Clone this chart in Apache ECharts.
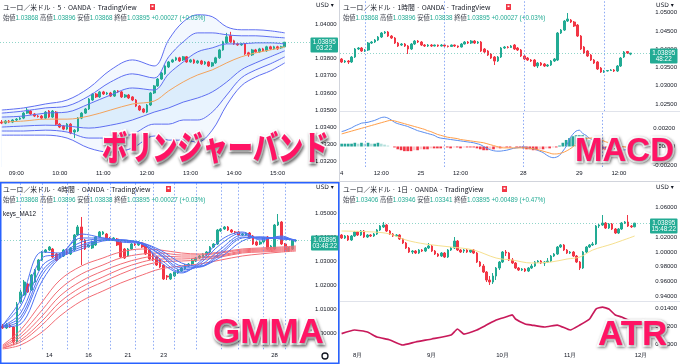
<!DOCTYPE html>
<html><head><meta charset="utf-8">
<script src="https://cdn.jsdelivr.net/npm/echarts@6/dist/echarts.min.js"></script>
<style>html,body{margin:0;padding:0;background:#fff}#c{width:680px;height:364px}</style>
</head><body><div id="c"></div>
<script>
// ================= DATA =================
// Panel 1 : 5 min + Bollinger bands
const p1Slots = 86;
const p1TickIdx = [4,16,28,40,52,64,76];
const p1TickLbl = ['09:00','10:00','11:00','12:00','13:00','14:00','15:00'];
const p1Candles = [
[1.03431,1.03425,1.03419,1.03443],[1.03425,1.03437,1.03419,1.03443],[1.03437,1.03431,1.03425,1.03443],[1.03431,1.03443,1.03425,1.03448],
[1.03443,1.03448,1.03437,1.03454],[1.03448,1.03454,1.03443,1.03460],[1.03454,1.03483,1.03448,1.03489],[1.03483,1.03501,1.03478,1.03513],
[1.03495,1.03478,1.03472,1.03501],[1.03478,1.03466,1.03460,1.03483],[1.03466,1.03463,1.03457,1.03472],[1.03466,1.03454,1.03448,1.03472],
[1.03454,1.03489,1.03448,1.03495],[1.03495,1.03460,1.03454,1.03501],[1.03460,1.03495,1.03454,1.03501],[1.03489,1.03419,1.03413,1.03495],
[1.03419,1.03402,1.03396,1.03425],[1.03408,1.03390,1.03384,1.03413],[1.03390,1.03419,1.03384,1.03425],[1.03419,1.03367,1.03361,1.03425],
[1.03373,1.03384,1.03338,1.03390],[1.03379,1.03454,1.03373,1.03460],[1.03454,1.03483,1.03448,1.03489],[1.03483,1.03507,1.03478,1.03513],
[1.03507,1.03565,1.03501,1.03571],[1.03559,1.03594,1.03553,1.03600],[1.03594,1.03577,1.03571,1.03600],[1.03577,1.03606,1.03571,1.03612],
[1.03606,1.03594,1.03588,1.03612],[1.03594,1.03600,1.03588,1.03606],[1.03600,1.03582,1.03577,1.03606],[1.03582,1.03612,1.03577,1.03617],
[1.03612,1.03606,1.03600,1.03617],[1.03606,1.03577,1.03571,1.03612],[1.03577,1.03588,1.03571,1.03594],[1.03588,1.03571,1.03565,1.03594],
[1.03577,1.03559,1.03553,1.03582],[1.03559,1.03524,1.03518,1.03565],[1.03524,1.03501,1.03495,1.03530],[1.03507,1.03489,1.03483,1.03513],
[1.03489,1.03530,1.03483,1.03536],[1.03530,1.03600,1.03524,1.03606],[1.03600,1.03641,1.03594,1.03646],[1.03641,1.03681,1.03635,1.03687],
[1.03681,1.03716,1.03676,1.03722],[1.03711,1.03757,1.03705,1.03763],[1.03751,1.03780,1.03745,1.03786],[1.03780,1.03792,1.03775,1.03798],
[1.03792,1.03804,1.03786,1.03810],[1.03804,1.03786,1.03780,1.03810],[1.03792,1.03810,1.03786,1.03815],[1.03810,1.03780,1.03775,1.03815],
[1.03780,1.03792,1.03775,1.03798],[1.03792,1.03775,1.03769,1.03798],[1.03775,1.03786,1.03769,1.03792],[1.03786,1.03769,1.03763,1.03792],
[1.03769,1.03780,1.03763,1.03786],[1.03780,1.03757,1.03751,1.03786],[1.03757,1.03775,1.03751,1.03780],[1.03775,1.03804,1.03769,1.03810],
[1.03804,1.03850,1.03798,1.03856],[1.03850,1.03897,1.03845,1.03903],[1.03891,1.03926,1.03885,1.03949],[1.03932,1.03897,1.03891,1.03955],
[1.03903,1.03885,1.03879,1.03909],[1.03885,1.03879,1.03874,1.03891],[1.03879,1.03885,1.03874,1.03891],[1.03885,1.03827,1.03821,1.03891],
[1.03833,1.03821,1.03810,1.03839],[1.03821,1.03850,1.03815,1.03856],[1.03850,1.03839,1.03833,1.03856],[1.03839,1.03856,1.03833,1.03862],
[1.03856,1.03845,1.03839,1.03862],[1.03845,1.03868,1.03839,1.03874],[1.03868,1.03856,1.03850,1.03874],[1.03856,1.03868,1.03850,1.03874],
[1.03868,1.03856,1.03850,1.03874],[1.03862,1.03868,1.03856,1.03874],[1.03868,1.03895,1.03868,1.03896]
];
const p1BandIdx = [0,6,12,18,24,30,36,42,46,50,54,58,62,66,70,74,78];
const p1Up3 = [1.03501,1.03513,1.03536,1.03559,1.03629,1.03734,1.03792,1.03757,1.03909,1.04013,1.04054,1.04043,1.03984,1.03967,1.03967,1.03961,1.03949];
const p1Up2 = [1.03483,1.03495,1.03513,1.03524,1.03582,1.03664,1.03711,1.03687,1.03810,1.03897,1.03949,1.03949,1.03938,1.03932,1.03932,1.03926,1.03920];
const p1Up1 = [1.03460,1.03466,1.03483,1.03489,1.03536,1.03588,1.03629,1.03617,1.03711,1.03780,1.03839,1.03862,1.03885,1.03885,1.03891,1.03891,1.03885];
const p1Mid = [1.03431,1.03437,1.03448,1.03448,1.03466,1.03501,1.03536,1.03553,1.03612,1.03664,1.03705,1.03734,1.03775,1.03810,1.03833,1.03850,1.03868];
const p1Lo1 = [1.03402,1.03408,1.03413,1.03408,1.03396,1.03413,1.03443,1.03489,1.03513,1.03547,1.03571,1.03606,1.03664,1.03734,1.03775,1.03810,1.03845];
const p1Lo2 = [1.03379,1.03379,1.03384,1.03373,1.03338,1.03338,1.03361,1.03419,1.03419,1.03443,1.03443,1.03489,1.03588,1.03687,1.03734,1.03769,1.03810];
const p1Lo3 = [1.03355,1.03355,1.03355,1.03338,1.03280,1.03256,1.03280,1.03350,1.03326,1.03326,1.03315,1.03384,1.03530,1.03641,1.03693,1.03728,1.03775];
const p1Ohlc = ['1.03868','1.03896','1.03868','1.03895','+0.00027 (+0.03%)'];
const p1Timer = '03:22';

// Panel 2 : 1 hour + MACD
const p2Slots = 94;
const p2TickIdx = [0,12,24,36,55,72,84];
const p2TickLbl = ['4','12:00','25','12:00','28','29','12:00'];
const p2SessIdx = [7,31,55,79];
const p2Candles = [
[1.03733,1.03651,1.03623,1.03760],[1.03651,1.03678,1.03623,1.03705],[1.03678,1.03651,1.03596,1.03705],[1.03651,1.03788,1.03623,1.03815],
[1.03788,1.04007,1.03760,1.04034],[1.04007,1.04034,1.03979,1.04062],[1.04034,1.03952,1.03925,1.04062],[1.03952,1.03979,1.03925,1.04007],
[1.03979,1.04171,1.03952,1.04199],[1.04171,1.04199,1.04144,1.04226],[1.04199,1.04253,1.04171,1.04281],[1.04253,1.04336,1.04226,1.04363],
[1.04336,1.04445,1.04308,1.04473],[1.04445,1.04473,1.04418,1.04500],[1.04473,1.04363,1.04336,1.04500],[1.04363,1.04308,1.04281,1.04390],
[1.04308,1.04171,1.04144,1.04336],[1.04171,1.04089,1.04062,1.04199],[1.04116,1.04144,1.04089,1.04171],[1.04144,1.04089,1.04062,1.04171],
[1.04089,1.04007,1.03870,1.04116],[1.04007,1.04144,1.03979,1.04171],[1.04144,1.04226,1.04116,1.04253],[1.04226,1.04199,1.04171,1.04253],
[1.04199,1.04116,1.04089,1.04226],[1.04116,1.04089,1.04062,1.04144],[1.04089,1.04116,1.04062,1.04144],[1.04116,1.04089,1.04062,1.04144],
[1.04089,1.04116,1.04075,1.04130],[1.04116,1.04089,1.04062,1.04130],[1.04089,1.04116,1.04075,1.04144],[1.04116,1.04089,1.04062,1.04130],
[1.04089,1.04075,1.04048,1.04103],[1.04075,1.04116,1.04062,1.04130],[1.04116,1.04089,1.04062,1.04130],[1.04089,1.04062,1.04034,1.04103],
[1.04062,1.04144,1.04048,1.04171],[1.04144,1.04199,1.04130,1.04226],[1.04199,1.04171,1.04144,1.04226],[1.04171,1.04226,1.04144,1.04253],
[1.04226,1.04171,1.04144,1.04253],[1.04171,1.04199,1.04144,1.04226],[1.04199,1.03952,1.03925,1.04226],[1.04007,1.03925,1.03897,1.04034],
[1.03952,1.03842,1.03815,1.03979],[1.03870,1.03760,1.03733,1.03897],[1.03788,1.03678,1.03568,1.03815],[1.03678,1.03788,1.03651,1.03815],
[1.03788,1.04034,1.03760,1.04062],[1.04034,1.04062,1.04007,1.04089],[1.04062,1.04048,1.04021,1.04089],[1.04048,1.04089,1.04034,1.04116],
[1.04116,1.04007,1.03979,1.04144],[1.04034,1.03979,1.03952,1.04062],[1.03979,1.03815,1.03788,1.04007],[1.03815,1.03733,1.03705,1.03842],
[1.03760,1.03705,1.03678,1.03788],[1.03705,1.03678,1.03651,1.03733],[1.03705,1.03541,1.03514,1.03733],[1.03541,1.03623,1.03486,1.03651],
[1.03623,1.03568,1.03541,1.03651],[1.03596,1.03541,1.03514,1.03623],[1.03541,1.03568,1.03514,1.03596],[1.03568,1.03678,1.03541,1.03705],
[1.03678,1.03733,1.03651,1.03760],[1.03705,1.04445,1.03678,1.04473],[1.04445,1.04527,1.04418,1.04555],[1.04527,1.04774,1.04500,1.04801],
[1.04774,1.04829,1.04747,1.04993],[1.04801,1.04747,1.04719,1.04829],[1.04747,1.04637,1.04610,1.04774],[1.04664,1.04363,1.04336,1.04692],
[1.04363,1.04007,1.03979,1.04390],[1.04062,1.03897,1.03870,1.04089],[1.03952,1.03815,1.03788,1.03979],[1.03842,1.03705,1.03678,1.03870],
[1.03705,1.03623,1.03596,1.03733],[1.03651,1.03459,1.03432,1.03678],[1.03486,1.03377,1.03350,1.03514],[1.03377,1.03404,1.03350,1.03432],
[1.03404,1.03418,1.03390,1.03432],[1.03418,1.03432,1.03404,1.03459],[1.03432,1.03404,1.03377,1.03459],[1.03404,1.03541,1.03377,1.03568],
[1.03541,1.03760,1.03514,1.03788],[1.03788,1.03925,1.03760,1.03952],[1.03938,1.03897,1.03870,1.03952],[1.03868,1.03895,1.03838,1.03896]
];
const p2Macd = [0.0016,0.0017,0.00185,0.0020,0.0022,0.00235,0.0025,0.00255,0.0026,0.0027,0.0028,0.00295,0.0031,0.00315,0.00305,0.00285,
0.0026,0.00245,0.00235,0.00225,0.00215,0.0020,0.00185,0.0017,0.0016,0.0015,0.0014,0.0013,0.0012,0.0010,0.0009,0.00085,
0.0008,0.00075,0.0007,0.00065,0.0006,0.00055,0.0005,0.00045,0.0004,0.0003,0.0002,0.0000,-0.0002,-0.00035,-0.00045,-0.0005,
-0.0005,-0.00045,-0.0004,-0.0003,-0.0002,-0.00015,-0.0001,-0.00005,-0.0001,-0.0002,-0.00025,-0.00035,-0.0005,-0.00065,-0.0009,-0.0011,
-0.0012,-0.00115,-0.00095,-0.0005,0.0000,0.0008,0.0013,0.00165,0.00175,0.0014,0.0012,0.0009,0.0007,0.0004,0.00015,-0.00005,
-0.0002,-0.0003,-0.0004,-0.00045,-0.00045,-0.0004,-0.00035,-0.0003];
const p2Signal = [0.00135,0.00145,0.00155,0.00165,0.00175,0.00185,0.00195,0.00205,0.00215,0.00225,0.00235,0.00245,0.00255,0.00265,0.00275,0.0028,
0.00275,0.00265,0.00255,0.00245,0.00235,0.00225,0.00215,0.00205,0.00195,0.00185,0.0017,0.0016,0.00145,0.0013,0.0012,0.0011,
0.0010,0.00095,0.0009,0.00085,0.00075,0.0007,0.00065,0.0006,0.00055,0.0005,0.00045,0.0004,0.0003,0.0002,0.0001,0.0000,
-0.0001,-0.00015,-0.00015,-0.00015,-0.00015,-0.00015,-0.00015,-0.00015,-0.00015,-0.0002,-0.00025,-0.0003,-0.0004,-0.0005,-0.0006,-0.0007,
-0.0008,-0.0008,-0.00075,-0.00065,-0.0005,-0.0003,-0.00005,0.00025,0.0005,0.0007,0.00085,0.0009,0.0009,0.00085,0.00075,0.00065,
0.0005,0.0004,0.0003,0.0002,0.0001,0.0000,-0.00005,-0.0001];
const p2Hist = [0.0003,0.0003,0.0003,0.0003,0.0004,0.0003,0.0004,0.0003,0.0004,0.0003,0.0003,0.0004,0.0003,0.0002,0.0001,0.0000,
-0.0001,-0.0003,-0.0004,-0.0005,-0.0005,-0.0005,-0.0004,-0.0004,-0.0003,-0.0003,-0.0003,-0.0002,-0.0002,-0.0002,-0.0002,-0.0001,
-0.0001,-0.0002,-0.0001,-0.0001,-0.0002,-0.0001,-0.0001,-0.0001,-0.0001,-0.0002,-0.0003,-0.0004,-0.0004,-0.0003,-0.0003,-0.0002,
-0.0002,-0.0001,-0.0001,-0.0001,0.0000,-0.0001,-0.0001,-0.0002,-0.0003,-0.0003,-0.0004,-0.0004,-0.0003,-0.0003,-0.0002,-0.0002,
-0.0001,-0.0001,0.0001,0.0004,0.0007,0.0009,0.0011,0.0012,0.0012,0.0012,0.0010,0.0007,0.0004,0.0001,-0.0001,-0.0003,
-0.0004,-0.0005,-0.0005,-0.0004,-0.0003,-0.0002,-0.0001,-0.0001];
const p2Ohlc = ['1.03868','1.03896','1.03838','1.03895','+0.00027 (+0.03%)'];
const p2Timer = '48:22';

// Panel 3 : 4 hour + GMMA
const p3Slots = 87;
const p3TickIdx = [13,24,35,45,76];
const p3TickLbl = ['14','16','21','23','28'];
const p3SessIdx = [5,11,18,24,30,37,42,48,54,61,66,73,79];
const p3Candles = [
[1.00321,1.00238,1.00196,1.00404],[1.00238,1.00363,1.00196,1.00446],[1.00363,1.00279,1.00238,1.00404],[1.00279,0.99654,0.99529,1.00321],
[0.99654,1.01238,0.99571,1.01321],[1.01321,1.01738,1.01238,1.01821],[1.01613,1.02154,1.01571,1.02238],[1.02071,1.01738,1.01696,1.02113],
[1.01821,1.02446,1.01779,1.02488],[1.02154,1.02654,1.02113,1.02696],[1.02654,1.03071,1.02613,1.03113],[1.03071,1.03404,1.03029,1.03446],
[1.03404,1.03488,1.03363,1.03529],[1.03488,1.03613,1.03446,1.03654],[1.03529,1.03196,1.03154,1.03571],[1.03321,1.03071,1.03029,1.03363],
[1.03154,1.03321,1.03113,1.03363],[1.03238,1.03488,1.03196,1.03529],[1.03488,1.03321,1.03279,1.03529],[1.03321,1.03571,1.03279,1.03613],
[1.03488,1.04113,1.03446,1.04154],[1.04113,1.04446,1.04071,1.04529],[1.04446,1.03904,1.02863,1.04863],[1.03904,1.03529,1.03488,1.03946],
[1.03613,1.03696,1.03571,1.03738],[1.03571,1.03821,1.03529,1.03863],[1.03696,1.04029,1.03654,1.04071],[1.04029,1.04238,1.03988,1.04279],
[1.04154,1.04238,1.04113,1.04279],[1.04154,1.03946,1.03904,1.04196],[1.03988,1.03946,1.03904,1.04029],[1.03946,1.03988,1.03904,1.04029],
[1.03946,1.03696,1.03654,1.03988],[1.03821,1.03196,1.03154,1.03863],[1.03529,1.03154,1.03113,1.03571],[1.03238,1.03529,1.03196,1.03571],
[1.03529,1.03738,1.03488,1.03779],[1.03738,1.03696,1.03654,1.03779],[1.03696,1.03821,1.03654,1.03863],[1.03779,1.03613,1.03571,1.03821],
[1.03696,1.03321,1.03279,1.03738],[1.03488,1.03113,1.03071,1.03529],[1.03321,1.03071,1.03029,1.03363],[1.03196,1.02863,1.02821,1.03238],
[1.03071,1.02779,1.02738,1.03113],[1.02863,1.02279,1.02238,1.02904],[1.02404,1.02363,1.02238,1.02446],[1.02279,1.02488,1.02238,1.02529],
[1.02404,1.02571,1.02363,1.02613],[1.02529,1.02654,1.02488,1.02696],[1.02613,1.02738,1.02571,1.02779],[1.02696,1.02863,1.02654,1.02904],
[1.02821,1.02904,1.02779,1.02946],[1.02904,1.03071,1.02863,1.03113],[1.03029,1.03154,1.02988,1.03196],[1.03154,1.03238,1.03113,1.03279],
[1.03196,1.03321,1.03154,1.03363],[1.03279,1.03404,1.03238,1.03446],[1.03404,1.03613,1.03363,1.03654],[1.03613,1.03738,1.03571,1.03779],
[1.03738,1.04321,1.03696,1.04363],[1.04279,1.04363,1.04238,1.04404],[1.04363,1.04446,1.04321,1.04488],[1.04446,1.04321,1.04279,1.04488],
[1.04321,1.04238,1.04196,1.04363],[1.04238,1.04217,1.04154,1.04279],[1.04238,1.04113,1.04071,1.04279],[1.04113,1.04154,1.04071,1.04196],
[1.04113,1.04196,1.04071,1.04238],[1.04196,1.03988,1.03946,1.04238],[1.04071,1.03738,1.03696,1.04113],[1.03821,1.03696,1.03654,1.03863],
[1.03738,1.03821,1.03696,1.03863],[1.03821,1.03988,1.03779,1.04029],[1.04029,1.03529,1.03488,1.04071],[1.03529,1.03654,1.03488,1.03696],
[1.03529,1.04529,1.03488,1.04571],[1.04529,1.04654,1.04488,1.04987],[1.04654,1.03738,1.03696,1.04696],[1.03738,1.03446,1.03404,1.03779],
[1.03446,1.03571,1.03404,1.03613],[1.03529,1.03904,1.03488,1.03946],[1.03868,1.03895,1.03838,1.03896]
];
const p3LineIdx = [0,5,11,16,22,28,33,39,44,50,55,61,67,72,78,82];
const p3Short = [
[1.00363,1.01404,1.03404,1.03363,1.04154,1.03988,1.03821,1.03738,1.02988,1.02529,1.02988,1.03904,1.04238,1.03904,1.04071,1.03821],
[1.00363,1.01154,1.03154,1.03321,1.03988,1.03988,1.03863,1.03738,1.03113,1.02571,1.02904,1.03738,1.04196,1.03946,1.04029,1.03863],
[1.00321,1.00863,1.02821,1.03279,1.03821,1.03946,1.03904,1.03738,1.03279,1.02654,1.02821,1.03529,1.04113,1.03988,1.03988,1.03863],
[1.00321,1.00696,1.02613,1.03238,1.03696,1.03904,1.03904,1.03738,1.03321,1.02738,1.02779,1.03404,1.04029,1.03988,1.03988,1.03904],
[1.00279,1.00571,1.02446,1.03196,1.03613,1.03904,1.03904,1.03779,1.03404,1.02821,1.02779,1.03321,1.03988,1.04029,1.03946,1.03904],
[1.00279,1.00404,1.02196,1.03154,1.03529,1.03863,1.03904,1.03779,1.03488,1.02946,1.02821,1.03196,1.03863,1.04029,1.03946,1.03904]
];
const p3Long = [
[0.99529,1.00154,1.01321,1.02238,1.02821,1.03154,1.03404,1.03529,1.03488,1.03363,1.03321,1.03404,1.03529,1.03571,1.03613,1.03654],
[0.99488,0.99988,1.00988,1.01863,1.02488,1.02863,1.03154,1.03321,1.03363,1.03279,1.03279,1.03363,1.03488,1.03529,1.03571,1.03613],
[0.99446,0.99863,1.00738,1.01571,1.02196,1.02613,1.02904,1.03154,1.03238,1.03196,1.03196,1.03279,1.03446,1.03488,1.03529,1.03571],
[0.99404,0.99738,1.00529,1.01321,1.01946,1.02363,1.02696,1.02988,1.03113,1.03113,1.03154,1.03238,1.03404,1.03446,1.03488,1.03529],
[0.99404,0.99654,1.00363,1.01113,1.01738,1.02154,1.02488,1.02821,1.02988,1.03029,1.03071,1.03196,1.03363,1.03404,1.03446,1.03488],
[0.99363,0.99529,1.00071,1.00738,1.01363,1.01779,1.02113,1.02446,1.02696,1.02821,1.02904,1.03071,1.03238,1.03321,1.03404,1.03446]
];
const p3Ohlc = ['1.03868','1.03896','1.03838','1.03895','+0.00027 (+0.03%)'];
const p3Timer = '03:48:22';

// Panel 4 : daily + ATR
const p4Slots = 97;
const p4TickIdx = [5,28,50,71,93];
const p4TickLbl = ['8月','9月','10月','11月','12月'];
const p4Candles = [
[1.02297,1.01892,1.01757,1.02432],[1.01892,1.02162,1.01757,1.02297],[1.02162,1.01622,1.01486,1.02297],[1.01622,1.02162,1.01486,1.02297],
[1.02162,1.02703,1.02027,1.02838],[1.02703,1.02297,1.02162,1.02838],[1.02297,1.02838,1.02162,1.02973],[1.02838,1.02027,1.01892,1.02973],
[1.02027,1.02297,1.01892,1.02432],[1.02297,1.02162,1.02027,1.02432],[1.02162,1.02432,1.02027,1.02568],[1.02432,1.02973,1.02297,1.03108],
[1.02973,1.03514,1.02838,1.03649],[1.03378,1.03649,1.03243,1.04054],[1.03649,1.02838,1.02703,1.03784],[1.02838,1.02432,1.02297,1.02973],
[1.02432,1.02162,1.02027,1.02568],[1.02162,1.02297,1.02027,1.02432],[1.02297,1.01757,1.01622,1.02432],[1.01757,1.01216,1.01081,1.01892],
[1.01216,1.00541,1.00405,1.01351],[1.00541,1.00000,0.99865,1.00676],[1.00000,1.00135,0.99730,1.00270],[1.00135,0.99865,0.99730,1.00270],
[0.99865,1.00270,0.99730,1.00405],[1.00270,1.00135,1.00000,1.00405],[1.00135,1.00541,1.00000,1.00676],[1.00541,1.00811,1.00405,1.01216],
[1.00811,1.00135,1.00000,1.00946],[1.00135,0.99730,0.99595,1.00270],[0.99730,0.99459,0.99324,0.99865],[0.99459,0.99865,0.99324,1.00000],
[0.99865,0.99324,0.99189,1.00000],[0.99324,1.00270,0.99189,1.00405],[1.00270,1.00541,1.00135,1.00676],[1.00541,1.01486,1.00405,1.02027],
[1.01486,1.00270,1.00135,1.01622],[1.00270,1.00000,0.99865,1.00405],[1.00135,1.00270,0.99865,1.00405],[1.00270,1.00000,0.99865,1.00405],
[1.00000,1.00270,0.99865,1.00405],[1.00270,0.99865,0.99730,1.00405],[0.99865,0.98649,0.98514,1.00000],[0.98649,0.98108,0.97973,0.98784],
[0.98108,0.97297,0.97162,0.98378],[0.97297,0.96216,0.95946,0.97432],[0.96216,0.95946,0.95541,0.96757],[0.95946,0.96757,0.95676,0.97162],
[0.96757,0.97838,0.96216,0.97973],[0.97838,0.98649,0.97568,0.98784],[0.98649,1.00000,0.98514,1.00135],[1.00000,0.99865,0.99459,1.00270],
[0.99865,0.98919,0.98784,1.00000],[0.98919,0.98514,0.98378,0.99189],[0.98514,0.97838,0.97703,0.98649],[0.97838,0.97568,0.97432,0.97973],
[0.97568,0.97703,0.97432,0.97838],[0.97703,0.97432,0.97297,0.97838],[0.97432,0.97838,0.97297,0.97973],[0.97838,0.98108,0.97703,0.98378],
[0.98108,0.98649,0.97973,0.98784],[0.98649,0.98784,0.98514,0.98919],[0.98784,0.98514,0.98378,0.98919],[0.98514,0.98649,0.98108,0.98784],
[0.98649,0.98784,0.98514,0.99189],[0.98784,0.99459,0.98649,0.99595],[0.99459,0.99730,0.99324,0.99865],[0.99730,1.00676,0.99595,1.00811],
[1.00676,1.00946,1.00541,1.01081],[1.00946,1.00270,1.00135,1.01081],[1.00270,0.99865,0.99730,1.00405],[0.99865,1.00000,0.99730,1.00135],
[1.00000,0.99459,0.99324,1.00135],[0.99459,0.98649,0.98514,0.99595],[0.98649,0.97838,0.97568,0.98784],[0.97838,1.00000,0.97703,1.00135],
[1.00000,1.00676,0.99865,1.00811],[1.00676,1.00946,1.00541,1.01081],[1.00946,1.01081,1.00811,1.01351],[1.01081,1.03514,1.00946,1.03649],
[1.03514,1.03649,1.03243,1.03784],[1.03649,1.03919,1.03514,1.05000],[1.03919,1.03243,1.03108,1.04054],[1.03243,1.03784,1.03108,1.03919],
[1.03784,1.03108,1.02973,1.03919],[1.03108,1.02568,1.02432,1.03243],[1.02568,1.03108,1.02432,1.03243],[1.03108,1.03919,1.02973,1.04054],
[1.03919,1.04054,1.03784,1.04190],[1.04054,1.03514,1.03378,1.05000],[1.03514,1.03406,1.03243,1.03649],[1.03406,1.03895,1.03341,1.03946]
];
const p4MaIdx = [0,10,15,20,26,34,41,48,53,59,65,70,74,78,84,91];
const p4Ma = [1.02838,1.02703,1.02432,1.01622,1.01081,1.00676,1.00270,0.99189,0.98919,0.98514,0.98649,0.99054,0.99324,1.00270,1.01081,1.02162];
const p4AtrIdx = [0,4,8,11,15,19,23,28,34,36,38,42,45,48,51,53,54,57,59,63,67,71,74,77,79,81,83,85,87,89,91];
const p4Atr = [0.01118,0.01159,0.01137,0.01081,0.01048,0.00992,0.01026,0.01059,0.01103,0.0117,0.01114,0.01159,0.01214,0.0127,0.01303,0.01326,
0.01281,0.01226,0.01214,0.01192,0.01214,0.01159,0.01214,0.01281,0.01392,0.01414,0.01392,0.01326,0.01303,0.0127,0.01248];
const p4Ohlc = ['1.03406','1.03946','1.03341','1.03895','+0.00489 (+0.47%)'];
const p4Timer = '15:48:22';

const titles = ['ユーロ／米ドル · 5 · OANDA · TradingView','ユーロ／米ドル · 1時間 · OANDA · TradingView',
                'ユーロ／米ドル · 4時間 · OANDA · TradingView','ユーロ／米ドル · 1日 · OANDA · TradingView'];
const bigLabels = ['ボリンジャーバンド','MACD','GMMA','ATR'];

// ================= BUILD =================
const UP = '#22ab94', DN = '#f23645';
const FONT = '"Liberation Sans", Arial, sans-serif';
const JFONT = '"Noto Sans CJK JP", sans-serif';
const INK = '#131722';

function cats(n, idx, lbl) { const a = new Array(n).fill(''); idx.forEach((i, k) => { a[i] = lbl[k]; }); return a; }
function fmt(step, lo, hi) {
  return v => { if (Math.abs(v) < 1e-12) v = 0; const k = v / step;
    if (Math.abs(k - Math.round(k)) > 1e-3) return ''; if (v < lo - 1e-9 || v > hi + 1e-9) return ''; return v.toFixed(5); };
}
function yAx(g, min, max, interval, step, lo, hi) {
  return { type: 'value', gridIndex: g, position: 'right', min, max, interval,
    axisLine: { show: false }, axisTick: { show: false }, splitLine: { show: false },
    axisLabel: { margin: 3, fontSize: 6, color: INK, fontFamily: FONT, formatter: fmt(step, lo, hi) } };
}
function xAx(g, data, show, margin) {
  return { type: 'category', gridIndex: g, data, boundaryGap: true,
    axisLine: { show: false }, axisTick: { show: false }, splitLine: { show: false },
    axisLabel: { show, interval: (i, v) => v !== '', fontSize: 6, color: INK, fontFamily: FONT, margin } };
}
function priceLine(value) {
  return { yAxis: value, lineStyle: { color: UP, type: [1, 2], width: 1, opacity: 0.5 }, label: { show: false } };
}
function sess(i) { return { xAxis: i, lineStyle: { color: '#6f93f2', type: [1.5, 2], width: 1, opacity: 0.8 }, label: { show: false } }; }
function candle(xi, yi, data, marks) {
  return { type: 'candlestick', xAxisIndex: xi, yAxisIndex: yi, data, barWidth: '62%', silent: true, z: 3,
    itemStyle: { color: UP, color0: DN, borderColor: UP, borderColor0: DN, borderWidth: 1 },
    markLine: { symbol: ['none', 'none'], precision: 5, silent: true, animation: false, data: marks } };
}
function line(xi, yi, idx, vals, color, width, smooth, extra) {
  return Object.assign({ type: 'line', xAxisIndex: xi, yAxisIndex: yi, data: idx.map((i, k) => [i, vals[k]]), z: 4,
    symbol: 'none', smooth: smooth, silent: true, lineStyle: { color, width } }, extra || {});
}
function fill(idx, vals, color) {
  return line(0, 0, idx, vals, color, 0, 0.35, { z: 1, lineStyle: { width: 0, opacity: 0 }, areaStyle: { color, opacity: 1, origin: 'start' } });
}
const last = d => d[d.length - 1][1];

const series = [];
// Panel 1
series.push(fill(p1BandIdx, p1Up3, '#f3f8fe'), fill(p1BandIdx, p1Up2, '#e8f3fe'), fill(p1BandIdx, p1Up1, '#dcedfc'),
            fill(p1BandIdx, p1Lo1, '#e8f3fe'), fill(p1BandIdx, p1Lo2, '#f3f8fe'), fill(p1BandIdx, p1Lo3, '#ffffff'));
series.push(candle(0, 0, p1Candles, [priceLine(last(p1Candles))]));
[p1Up3, p1Up2, p1Up1, p1Lo1, p1Lo2, p1Lo3].forEach(a => series.push(line(0, 0, p1BandIdx, a, '#5f6ff2', 1, 0.35)));
series.push(line(0, 0, p1BandIdx, p1Mid, '#f3a35c', 1, 0.35));
// Panel 2
series.push(candle(1, 1, p2Candles, [priceLine(last(p2Candles))].concat(p2SessIdx.map(sess))));
series.push({ type: 'bar', xAxisIndex: 2, yAxisIndex: 2, barWidth: '80%', silent: true, z: 2,
  data: p2Hist.map((v, i) => { const pv = i ? p2Hist[i - 1] : v;
    const c = v >= 0 ? (v >= pv ? '#26a69a' : '#b2dfdb') : (v <= pv ? '#f23645' : '#fbc9cc');
    return { value: v, itemStyle: { color: c } }; }),
  markLine: { symbol: ['none', 'none'], silent: true, animation: false, data: p2SessIdx.map(sess) } });
const p2Idx = p2Macd.map((v, i) => i);
series.push(line(2, 2, p2Idx, p2Macd, '#5b8ef0', 1, 0.3));
series.push(line(2, 2, p2Idx, p2Signal, '#ff9f4a', 1, 0.3));
// Panel 3
series.push(candle(3, 3, p3Candles, [priceLine(last(p3Candles))].concat(p3SessIdx.map(sess))));
p3Long.forEach(a => series.push(line(3, 3, p3LineIdx, a, '#f26d75', 1, 0.35)));
p3Short.forEach(a => series.push(line(3, 3, p3LineIdx, a, '#4f73f3', 1, 0.35)));
// Panel 4
series.push(candle(4, 4, p4Candles, [priceLine(last(p4Candles))]));
series.push(line(4, 4, p4MaIdx, p4Ma, '#f6e08e', 1, 0.35));
series.push(line(5, 5, p4AtrIdx, p4Atr, '#c8195a', 1.7, 0.15));

// ---- graphics ----
const G = [];
function T(x, y, text, style) {
  G.push({ type: 'text', x, y, silent: true, z: 50,
    style: Object.assign({ text, fill: INK, font: '6.8px ' + JFONT, verticalAlign: 'middle', align: 'left' }, style || {}) });
}
function ohlcText(a) {
  return '{l|始値}{v|' + a[0] + '} {l|高値}{v|' + a[1] + '} {l|安値}{v|' + a[2] + '} {l|終値}{v|' + a[3] + '} {v|' + a[4] + '}';
}
const rich = { l: { fill: '#434651', fontSize: 6.3, fontFamily: JFONT }, v: { fill: UP, fontSize: 6.3, fontFamily: FONT } };
const panels = [[0, 0], [340, 0], [0, 182], [340, 182]];
const ohlcs = [p1Ohlc, p2Ohlc, p3Ohlc, p4Ohlc];
const flagX = [150, 506, 166, 502];
panels.forEach(([px, py], k) => {
  T(px + 3, py + 7.3, titles[k]);
  T(px + 3, py + 18, ohlcText(ohlcs[k]), { rich, font: '6.3px ' + FONT });
  G.push({ type: 'rect', silent: true, z: 50, shape: { x: flagX[k], y: py + 4, width: 5, height: 6 }, style: { fill: '#f23645' } });
  G.push({ type: 'rect', silent: true, z: 51, shape: { x: flagX[k] + 1.5, y: py + 5.5, width: 2, height: 1.6 }, style: { fill: '#fff' } });
  T(px + 316, py + 5.5, 'USD ▾', { font: '6px "DejaVu Sans"' });
});
T(3, 214, 'keys_MA12', { font: '6.3px ' + FONT });
// dividers & borders
G.push({ type: 'line', silent: true, z: 40, shape: { x1: 339.5, y1: 0, x2: 339.5, y2: 364 }, style: { stroke: '#d1d4dc', lineWidth: 1 } });
G.push({ type: 'line', silent: true, z: 40, shape: { x1: 0, y1: 181.5, x2: 680, y2: 181.5 }, style: { stroke: '#d1d4dc', lineWidth: 1 } });
G.push({ type: 'line', silent: true, z: 40, shape: { x1: 340, y1: 111.5, x2: 680, y2: 111.5 }, style: { stroke: '#e0e3eb', lineWidth: 1 } });
G.push({ type: 'line', silent: true, z: 40, shape: { x1: 340, y1: 301.5, x2: 680, y2: 301.5 }, style: { stroke: '#e0e3eb', lineWidth: 1 } });
G.push({ type: 'rect', silent: true, z: 41, shape: { x: 0.75, y: 182.75, width: 338, height: 180.5 }, style: { fill: 'none', stroke: '#2962ff', lineWidth: 1.5 } });
G.push({ type: 'circle', silent: true, z: 50, shape: { cx: 325, cy: 356, r: 3 }, style: { fill: 'none', stroke: INK, lineWidth: 1.3 } });
// big overlay labels
function big(x, y, text, font, sx) {
  G.push({ type: 'text', x, y, scaleX: sx, silent: true, z: 90,
    style: { text, x: 0, y: 0, fill: '#ff1464', stroke: '#ffffff', lineWidth: 3.5, font, verticalAlign: 'middle', align: 'left',
      textShadowColor: 'rgba(0,0,0,0.45)', textShadowBlur: 3, textShadowOffsetX: 1, textShadowOffsetY: 1.5 } });
}
big(102, 147.5, bigLabels[0], '900 34px ' + JFONT, 0.74);
big(575, 151.5, bigLabels[1], 'bold 33px ' + FONT, 1);
big(213, 333.5, bigLabels[2], 'bold 35px ' + FONT, 1);
big(598, 335, bigLabels[3], 'bold 35px ' + FONT, 1);

const option = {
  animation: false,
  backgroundColor: '#ffffff',
  grid: [
    { left: 0, top: 0, width: 312, height: 167 },
    { left: 340, top: 0, width: 313, height: 111.3 },
    { left: 340, top: 112, width: 313, height: 55 },
    { left: 1, top: 182.5, width: 311, height: 166.8 },
    { left: 340, top: 182.07, width: 313, height: 118.8 },
    { left: 340, top: 302, width: 313, height: 47.7 }
  ],
  xAxis: [
    xAx(0, cats(p1Slots, p1TickIdx, p1TickLbl), true, 3.5),
    xAx(1, cats(p2Slots, p2TickIdx, p2TickLbl), false, 3),
    xAx(2, cats(p2Slots, p2TickIdx, p2TickLbl), true, 3.5),
    xAx(3, cats(p3Slots, p3TickIdx, p3TickLbl), true, 3),
    xAx(4, cats(p4Slots, p4TickIdx, p4TickLbl), false, 3),
    xAx(5, cats(p4Slots, p4TickIdx, p4TickLbl), true, 3)
  ],
  yAxis: [
    yAx(0, 1.0317, 1.0414, 0.0001, 0.001, 1.032, 1.040),
    yAx(1, 1.023, 1.0535, 0.0005, 0.005, 1.025, 1.05),
    yAx(2, -0.0022, 0.0037, 0.0001, 0.002, -0.002, 0.002),
    yAx(3, 0.9935, 1.063, 0.0005, 0.01, 1.0, 1.05),
    yAx(4, 0.934, 1.0945, 0.0005, 0.02, 0.94, 1.06),
    yAx(5, 0.0094, 0.0147, 0.0001, 0.002, 0.010, 0.014)
  ],
  series
};
const chart = echarts.init(document.getElementById('c'));
chart.setOption(option);

// current-price boxes placed through the price axes
const boxSpecs = [[0, p1Candles, p1Timer, 310.5], [1, p2Candles, p2Timer, 650], [3, p3Candles, p3Timer, 311], [4, p4Candles, p4Timer, 650]];
boxSpecs.forEach(([yi, data, timer, x], k) => {
  const v = last(data);
  const y = chart.convertToPixel({ yAxisIndex: yi }, v);
  G.push({ type: 'group', id: 'pbox' + k, x, y: y - 4.6, z: 60, silent: true, children: [
    { type: 'rect', z: 60, shape: { x: 0, y: 0, width: 27.5, height: 15, r: 1 }, style: { fill: UP } },
    { type: 'text', z: 61, style: { text: v.toFixed(5), x: 13.75, y: 4.4, align: 'center', verticalAlign: 'middle', fill: '#fff', font: '6.3px ' + FONT } },
    { type: 'text', z: 61, style: { text: timer, x: 13.75, y: 11, align: 'center', verticalAlign: 'middle', fill: '#fff', font: '6.3px ' + FONT } }
  ] });
});
chart.setOption({ graphic: G });
</script></body></html>
